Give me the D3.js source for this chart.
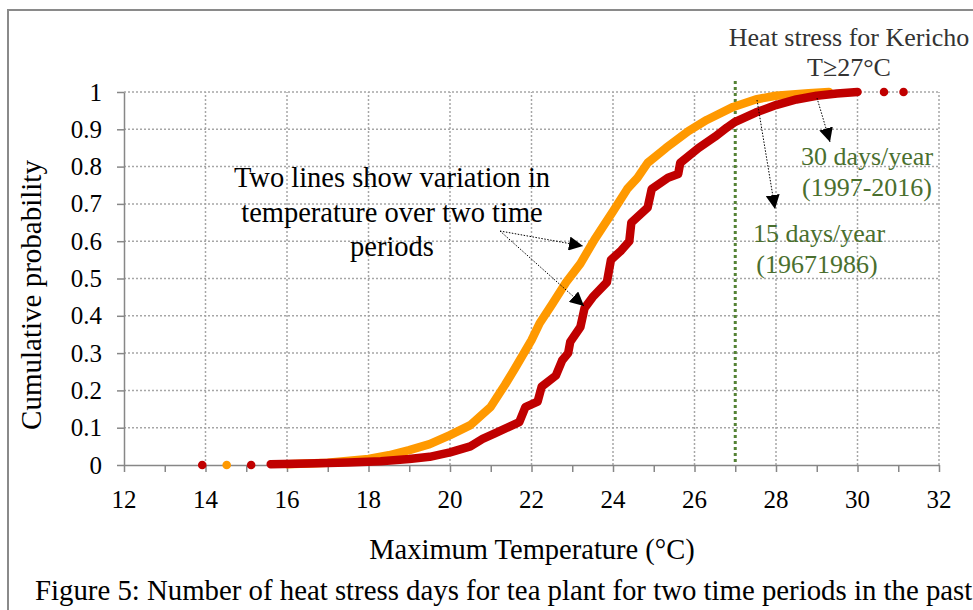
<!DOCTYPE html>
<html>
<head>
<meta charset="utf-8">
<script src="https://cdn.jsdelivr.net/npm/d3@7"></script>
<style>
  body { margin: 0; background: #fff; }
  svg text { font-family: "Liberation Serif", "Times New Roman", serif; }
</style>
</head>
<body>
<div id="main"></div>
<script>
const width = 973;
const height = 610;

// cumulative probability curves: [temperature, probability]
const recentPeriod = [ // 1997-2016, orange
  [16.0, 0.002], [17.0, 0.006], [18.0, 0.016], [18.5, 0.026], [19.0, 0.04],
  [19.5, 0.056], [20.0, 0.08], [20.5, 0.107], [21.0, 0.156], [21.35, 0.215],
  [21.6, 0.26], [22.0, 0.335], [22.2, 0.38], [22.5, 0.43], [22.85, 0.49],
  [23.2, 0.54], [23.55, 0.605], [24.0, 0.68], [24.35, 0.74], [24.6, 0.77],
  [24.85, 0.81], [25.3, 0.85], [25.85, 0.895], [26.3, 0.925], [26.95, 0.96],
  [27.5, 0.98], [28.0, 0.99], [28.8, 0.997], [29.3, 1.0]
];
const earlyPeriod = [ // 1967-1986, red
  [15.6, 0.002], [16.5, 0.004], [17.5, 0.007], [18.3, 0.01], [19.0, 0.016],
  [19.5, 0.022], [20.0, 0.034], [20.5, 0.05], [20.8, 0.07], [21.1, 0.085],
  [21.5, 0.105], [21.7, 0.115], [21.85, 0.155], [22.15, 0.17], [22.25, 0.21],
  [22.6, 0.24], [22.75, 0.28], [22.9, 0.3], [22.95, 0.33], [23.2, 0.37],
  [23.3, 0.42], [23.5, 0.45], [23.85, 0.49], [23.95, 0.55], [24.2, 0.575],
  [24.4, 0.6], [24.45, 0.65], [24.85, 0.69], [24.95, 0.74], [25.35, 0.77],
  [25.6, 0.78], [25.65, 0.81], [26.1, 0.85], [26.5, 0.88], [26.8, 0.905],
  [27.0, 0.92], [27.5, 0.945], [28.0, 0.965], [28.5, 0.98], [29.0, 0.99],
  [29.5, 0.996], [30.0, 1.0]
];
// isolated points at the ends
const recentOutliers = [[14.52, 0]];
const earlyOutliers = [[13.92, 0], [15.12, 0], [30.65, 1], [31.13, 1]];

const xTicks = [12, 14, 16, 18, 20, 22, 24, 26, 28, 30, 32];
const yTicks = [0, 0.1, 0.2, 0.3, 0.4, 0.5, 0.6, 0.7, 0.8, 0.9, 1];
const threshold = 27;

const svg = d3.select('#main')
    .append('svg')
    .attr('width', width)
    .attr('height', height);

// outer frame
svg.append('rect')
    .attr('x', 8).attr('y', 10)
    .attr('width', 1000).attr('height', 700)
    .attr('fill', 'none')
    .attr('stroke', '#8a8a8a')
    .attr('stroke-width', 2);

const x = d3.scaleLinear().domain([12, 32]).range([124, 939]);
const y = d3.scaleLinear().domain([0, 1]).range([465, 92]);

// grid
const grid = svg.append('g')
    .attr('stroke', '#a6a6a6')
    .attr('stroke-width', 1.5)
    .attr('stroke-dasharray', '2,2');
grid.selectAll('.gx')
    .data(xTicks.slice(1))
    .enter()
    .append('line')
    .attr('x1', d => x(d)).attr('x2', d => x(d))
    .attr('y1', y(0)).attr('y2', y(1));
grid.selectAll('.gy')
    .data(yTicks.slice(1))
    .enter()
    .append('line')
    .attr('x1', x(12)).attr('x2', x(32))
    .attr('y1', d => y(d)).attr('y2', d => y(d));

// axes
const xAxis = svg.append('g')
    .attr('transform', `translate(0,${y(0)})`)
    .call(d3.axisBottom(x).tickValues(d3.range(12, 33, 1)).tickSize(7).tickSizeOuter(0).tickFormat(''));
const yAxis = svg.append('g')
    .attr('transform', `translate(${x(12)},0)`)
    .call(d3.axisLeft(y).tickValues(yTicks).tickSize(7).tickSizeOuter(0).tickFormat(''));
[xAxis, yAxis].forEach(a => {
    a.selectAll('path, line').attr('stroke', '#878787').attr('stroke-width', 1.5);
});

svg.selectAll('.xlab')
    .data(xTicks)
    .enter()
    .append('text')
    .attr('x', d => x(d))
    .attr('y', 508)
    .attr('text-anchor', 'middle')
    .attr('font-size', 25)
    .text(d => d);
svg.selectAll('.ylab')
    .data(yTicks)
    .enter()
    .append('text')
    .attr('x', 102)
    .attr('y', d => y(d) + 8.5)
    .attr('text-anchor', 'end')
    .attr('font-size', 25)
    .text(d => d);

// threshold line
svg.append('line')
    .attr('x1', x(threshold)).attr('x2', x(threshold))
    .attr('y1', 81).attr('y2', y(0))
    .attr('stroke', '#548235')
    .attr('stroke-width', 3)
    .attr('stroke-dasharray', '3,3');

// curves
const line = d3.line()
    .x(d => x(d[0]))
    .y(d => y(d[1]));

function drawSeries(data, extra, color) {
    svg.append('path')
        .datum(data)
        .attr('d', line)
        .attr('fill', 'none')
        .attr('stroke', color)
        .attr('stroke-width', 8.5)
        .attr('stroke-linejoin', 'round')
        .attr('stroke-linecap', 'round');
    svg.selectAll(null)
        .data(extra)
        .enter()
        .append('circle')
        .attr('cx', d => x(d[0]))
        .attr('cy', d => y(d[1]))
        .attr('r', 4.3)
        .attr('fill', color);
}
drawSeries(recentPeriod, recentOutliers, '#ff9900');
drawSeries(earlyPeriod, earlyOutliers, '#c00000');

// annotation arrows
const defs = svg.append('defs');
defs.append('marker')
    .attr('id', 'head')
    .attr('viewBox', '0 0 10 10')
    .attr('refX', 10).attr('refY', 5)
    .attr('markerWidth', 14).attr('markerHeight', 14)
    .attr('markerUnits', 'userSpaceOnUse')
    .attr('orient', 'auto')
    .append('path')
    .attr('d', 'M0,0L10,5L0,10Z')
    .attr('fill', '#000');

const arrows = [
    [500, 231, 583, 246],
    [500, 231, 584, 306],
    [817, 98, 830, 142],
    [757, 100, 775, 209]
];
svg.selectAll('.arrow')
    .data(arrows)
    .enter()
    .append('line')
    .attr('x1', d => d[0]).attr('y1', d => d[1])
    .attr('x2', d => d[2]).attr('y2', d => d[3])
    .attr('stroke', '#000')
    .attr('stroke-width', 1)
    .attr('stroke-dasharray', '1.5,1.5')
    .attr('marker-end', 'url(#head)');

// texts
const note = svg.append('text')
    .attr('text-anchor', 'middle')
    .attr('font-size', 28.5);
['Two lines show variation in', 'temperature over two time', 'periods'].forEach((t, i) => {
    note.append('tspan').attr('x', 392).attr('y', 187 + i * 34.5).text(t);
});

svg.append('text')
    .attr('x', 849).attr('y', 46)
    .attr('text-anchor', 'middle')
    .attr('font-size', 26)
    .attr('fill', '#333')
    .text('Heat stress for Kericho');
svg.append('text')
    .attr('x', 849).attr('y', 76)
    .attr('text-anchor', 'middle')
    .attr('font-size', 26)
    .attr('fill', '#333')
    .text('T≥27°C');

const green = '#4a6f2e';
[['30 days/year', 867, 165], ['(1997-2016)', 867, 196],
 ['15 days/year', 819, 242], ['(19671986)', 817, 273]].forEach(d => {
    svg.append('text')
        .attr('x', d[1]).attr('y', d[2])
        .attr('text-anchor', 'middle')
        .attr('font-size', 26)
        .attr('fill', green)
        .text(d[0]);
});

svg.append('text')
    .attr('transform', 'translate(41,295) rotate(-90)')
    .attr('text-anchor', 'middle')
    .attr('font-size', 29)
    .text('Cumulative probability');
svg.append('text')
    .attr('x', 532).attr('y', 559)
    .attr('text-anchor', 'middle')
    .attr('font-size', 28.5)
    .text('Maximum Temperature (°C)');
svg.append('text')
    .attr('x', 35).attr('y', 600)
    .attr('font-size', 28.8)
    .text('Figure 5: Number of heat stress days for tea plant for two time periods in the past');
</script>
</body>
</html>
